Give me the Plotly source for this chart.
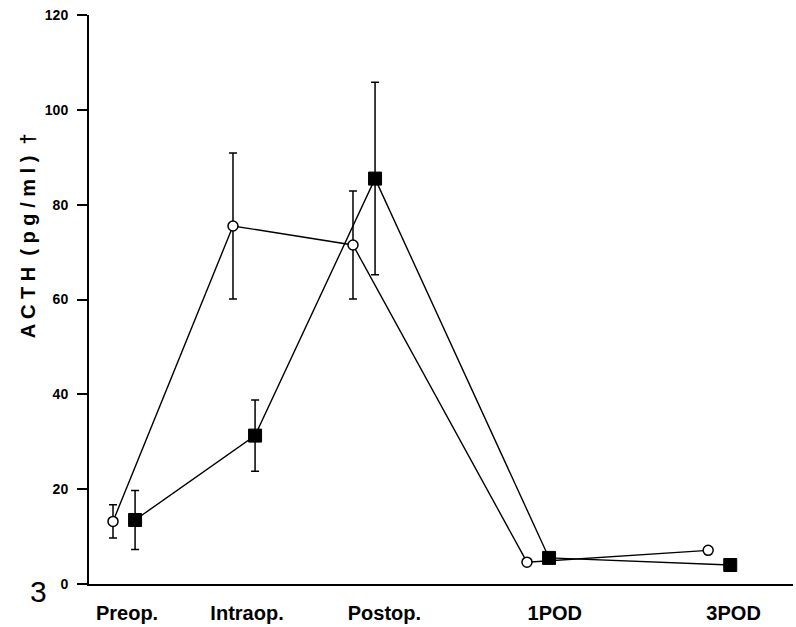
import plotly.graph_objects as go

# Data
categories = ["Preop.", "Intraop.", "Postop.", "1POD", "3POD"]
cat_pos = [1.0, 2.0, 3.0, 4.45, 5.96]          # time-point positions on the x axis
label_pos = [1.025, 2.025, 3.17, 4.59, 6.08]   # tick label positions
open_vals = [13.2, 75.5, 71.5, 4.6, 7.1]
open_err = [3.5, 15.4, 11.4, 0, 0]
filled_vals = [13.5, 31.3, 85.5, 5.5, 4.0]
filled_err = [6.2, 7.5, 20.3, 0, 0]
y_ticks = [0, 20, 40, 60, 80, 100, 120]

dodge = 0.092
x_open = [p - dodge for p in cat_pos]
x_filled = [p + dodge for p in cat_pos]

FONT = "Liberation Sans, Arial, sans-serif"

fig = go.Figure()
fig.add_trace(go.Scatter(
    x=x_open, y=open_vals, mode="lines+markers",
    line=dict(color="black", width=1.4),
    marker=dict(symbol="circle", size=10, color="white",
                line=dict(color="black", width=1.5)),
    error_y=dict(type="data", array=open_err, visible=True,
                 color="black", thickness=1.5, width=4),
    showlegend=False,
))
fig.add_trace(go.Scatter(
    x=x_filled, y=filled_vals, mode="lines+markers",
    line=dict(color="black", width=1.4),
    marker=dict(symbol="square", size=13, color="black",
                line=dict(color="black", width=1)),
    error_y=dict(type="data", array=filled_err, visible=True,
                 color="black", thickness=1.5, width=4),
    showlegend=False,
))

fig.update_layout(
    width=796, height=627,
    margin=dict(l=89, r=3, t=15, b=41),
    paper_bgcolor="white", plot_bgcolor="white",
    font=dict(family=FONT, color="black"),
    xaxis=dict(
        range=[0.708, 6.575], showgrid=False, zeroline=False,
        showline=True, linecolor="black", linewidth=2,
        tickmode="array", tickvals=label_pos,
        ticktext=["<b>%s</b>" % c for c in categories],
        ticks="", tickfont=dict(size=20, family=FONT, color="black"),
        ticklabelstandoff=10,
    ),
    yaxis=dict(
        range=[0, 120], showgrid=False, zeroline=False,
        showline=True, linecolor="black", linewidth=2,
        tickmode="array", tickvals=y_ticks,
        ticktext=["<b>%d</b>" % v for v in y_ticks],
        ticks="outside", ticklen=10, tickwidth=1.5, tickcolor="black",
        tickfont=dict(size=14, family=FONT, color="black"),
        ticklabelstandoff=6,
    ),
)

# y-axis title (spaced letters as in the scanned original)
title_txt = " ".join(list("ACTH")) + "  ( p g / m l )  \u2020"
fig.add_annotation(text="<b>%s</b>" % title_txt, xref="paper", yref="paper",
                   x=(28 - 89) / 704, y=(586 - 237) / 571, textangle=-90,
                   xanchor="center", yanchor="middle", showarrow=False,
                   font=dict(size=20, family=FONT, color="black"))

fig.add_annotation(text="3", xref="paper", yref="paper",
                   x=(38 - 89) / 704, y=(586 - 594) / 571,
                   xanchor="center", yanchor="middle", showarrow=False,
                   font=dict(size=30, family=FONT, color="black"))

fig.write_html("out.html")
